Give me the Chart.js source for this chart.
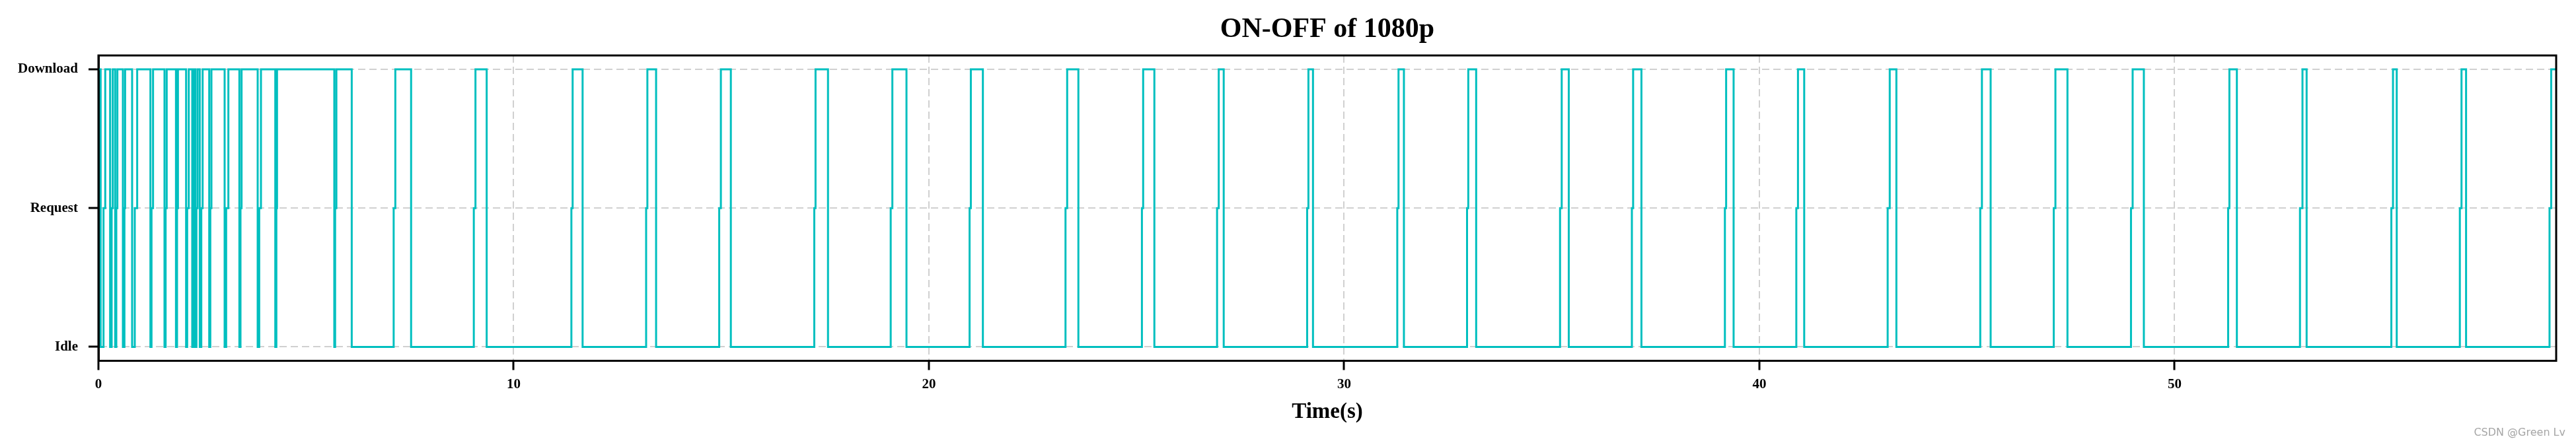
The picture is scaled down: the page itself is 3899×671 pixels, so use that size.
<!DOCTYPE html>
<html><head><meta charset="utf-8">
<script src="https://cdn.jsdelivr.net/npm/chart.js@4.4.1/dist/chart.umd.min.js"></script>
<style>
html,body{margin:0;padding:0;background:#fff;}
#wrap{position:relative;width:3899px;height:671px;}
#wm{position:absolute;right:16px;top:645px;font:16px 'DejaVu Sans',sans-serif;color:#a6a6a6;white-space:nowrap;}
</style></head><body>
<div id="wrap"><canvas id="c" width="3899" height="671"></canvas><div id="wm">CSDN @Green Lv</div></div>
<script>
// ---- data ----
const stateLabels = ['Idle', 'Request', 'Download'];
const startTime = 0;
const endTime = 59.19;
// Download -> Idle
const dropTimes = [0.053, 0.281, 0.403, 0.589, 0.811, 1.252, 1.591, 1.867, 2.111, 2.259, 2.334, 2.440, 2.668, 3.039, 3.394, 3.835, 4.259,
  5.68, 6.10, 7.53, 9.35, 11.66, 13.43, 15.23, 17.57, 19.46, 21.30, 23.60, 25.43, 27.10, 29.25, 31.44, 33.18, 35.41, 37.16, 39.38,
  41.08, 43.30, 45.57, 47.42, 49.26, 51.50, 53.18, 55.35, 57.02];
// Idle -> Request
const requestTimes = [0.122, 0.318, 0.430, 0.626, 0.875, 1.278, 1.618, 1.893, 2.137, 2.286, 2.360, 2.477, 2.694, 3.076, 3.421, 3.872, 4.285,
  5.70, 7.11, 9.04, 11.39, 13.19, 14.95, 17.24, 19.08, 20.98, 23.29, 25.13, 26.94, 29.11, 31.28, 32.96, 35.20, 36.93, 39.17, 40.89,
  43.09, 45.32, 47.09, 48.95, 51.29, 53.02, 55.22, 56.87, 59.03];
// Request -> Download
const downloadTimes = [0.164, 0.345, 0.456, 0.642, 0.933, 1.315, 1.644, 1.915, 2.175, 2.307, 2.387, 2.509, 2.721, 3.129, 3.447, 3.914, 4.301,
  5.73, 7.15, 9.08, 11.42, 13.22, 14.99, 17.27, 19.12, 21.01, 23.33, 25.16, 26.98, 29.14, 31.31, 32.99, 35.24, 36.96, 39.20, 40.93,
  43.14, 45.36, 47.13, 48.99, 51.32, 53.08, 55.26, 56.91, 59.07];
const xTickValues = [0, 10, 20, 30, 40, 50];
const yTickValues = [0, 1, 2];

// ---- build step points ----
const points = [{x: startTime, y: 2}];
for (let i = 0; i < dropTimes.length; i++) {
  points.push({x: dropTimes[i], y: 0});
  points.push({x: requestTimes[i], y: 1});
  points.push({x: downloadTimes[i], y: 2});
}
points.push({x: endTime, y: 2});

const SERIF = "'Liberation Serif', 'Times New Roman', serif";

const frame = {
  id: 'frame',
  afterDatasetsDraw(chart) {
    const {ctx, chartArea: a} = chart;
    ctx.save();
    ctx.strokeStyle = '#000';
    ctx.lineWidth = 3;
    ctx.strokeRect(a.left, a.top, a.right - a.left, a.bottom - a.top);
    ctx.restore();
  }
};

new Chart(document.getElementById('c'), {
  type: 'line',
  data: {
    datasets: [{
      data: points,
      stepped: true,
      borderColor: '#00BFBF',
      borderWidth: 3,
      pointRadius: 0,
      fill: false,
      borderJoinStyle: 'miter'
    }]
  },
  options: {
    responsive: false,
    animation: false,
    devicePixelRatio: 1,
    layout: {padding: {left: 0, right: 30, top: 0, bottom: 0}},
    plugins: {
      legend: {display: false},
      tooltip: {enabled: false},
      title: {
        display: true,
        text: 'ON-OFF of 1080p',
        fullSize: false,
        color: '#000',
        font: {family: SERIF, size: 42, weight: 'bold'},
        padding: {top: 20, bottom: 13.6}
      }
    },
    scales: {
      x: {
        type: 'linear',
        min: startTime,
        max: endTime,
        afterBuildTicks(scale) { scale.ticks = xTickValues.map(v => ({value: v})); },
        afterFit(scale) { scale.height = 124.5; },
        ticks: {
          color: '#000',
          font: {family: SERIF, size: 21, weight: 'bold'},
          padding: 9,
          maxRotation: 0,
          callback: v => String(v)
        },
        grid: {
          color: '#d0d0d0',
          lineWidth: 2,
          drawTicks: true,
          tickLength: 14,
          tickColor: '#000',
          tickWidth: 3
        },
        border: {display: true, color: '#000', width: 3, dash: [11, 6]},
        title: {
          display: true,
          text: 'Time(s)',
          color: '#000',
          font: {family: SERIF, size: 33, weight: 'bold'},
          padding: {top: 0, bottom: 27}
        }
      },
      y: {
        type: 'linear',
        min: -0.1,
        max: 2.1,
        afterBuildTicks(scale) { scale.ticks = yTickValues.map(v => ({value: v})); },
        afterFit(scale) { scale.width = 149; },
        ticks: {
          color: '#000',
          font: {family: SERIF, size: 21, weight: 'bold'},
          padding: 16,
          callback: v => stateLabels[v]
        },
        grid: {
          color: '#d0d0d0',
          lineWidth: 2,
          drawTicks: true,
          tickLength: 15,
          tickColor: '#000',
          tickWidth: 3
        },
        border: {display: true, color: '#000', width: 3, dash: [11, 6]}
      }
    }
  },
  plugins: [frame]
});
</script>
</body></html>
